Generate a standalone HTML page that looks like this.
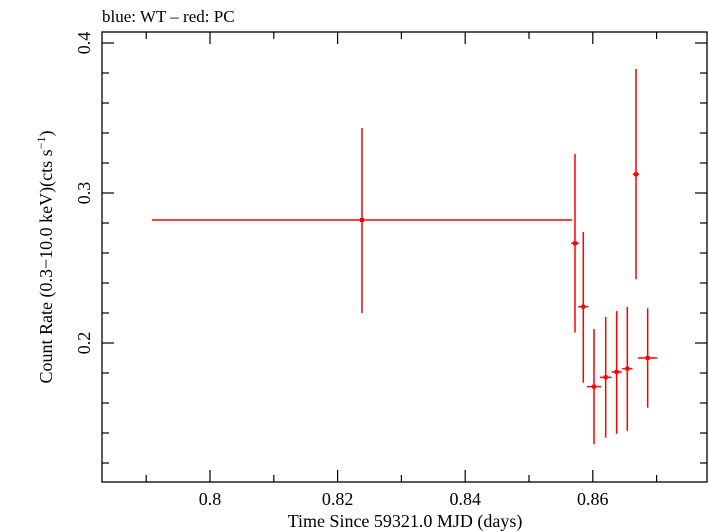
<!DOCTYPE html>
<html><head><meta charset="utf-8"><style>
body{margin:0;background:#fff}
svg{display:block;font-family:"Liberation Serif",serif}
</style></head><body>
<svg id="c" width="709" height="532" viewBox="0 0 709 532">
<text x="102" y="22" font-size="17">blue: WT – red: PC</text>
<rect x="102" y="32" width="605" height="450" fill="none" stroke="#000" stroke-width="1.3"/>
<g id="ticks"></g>
<g id="marks"></g>
<text x="405" y="527" font-size="18" text-anchor="middle">Time Since 59321.0 MJD (days)</text>
<text transform="translate(52,257) rotate(-90)" font-size="18" text-anchor="middle">Count Rate (0.3−10.0 keV)(cts s<tspan dy="-7" font-size="12">−1</tspan><tspan dy="7">)</tspan></text>
</svg>
<script>
const times=[0.82382,0.85721,0.85851,0.86019,0.86202,0.86374,0.86541,0.86677,0.8686];
const timeErrLo=[0.03291,0.0006,0.0008,0.0011,0.0009,0.0008,0.0008,0.0005,0.0015];
const timeErrHi=[0.03292,0.0006,0.0008,0.0011,0.0009,0.0008,0.0008,0.0005,0.0015];
const rates=[0.282,0.2665,0.2242,0.1709,0.1771,0.1807,0.1829,0.3125,0.19];
const rateHi=[0.3433,0.326,0.274,0.2093,0.2173,0.2213,0.224,0.3827,0.2231];
const rateLo=[0.22,0.2069,0.1735,0.1325,0.1369,0.1395,0.1415,0.2425,0.1569];
const xTicks=[0.8,0.82,0.84,0.86];
const xTickLabels=["0.8","0.82","0.84","0.86"];
const yTicks=[0.2,0.3,0.4];
const yTickLabels=["0.2","0.3","0.4"];
const L=102,R=707,T=32,B=482;
const X=v=>210+(v-0.8)*6380;
const Y=v=>43+(0.4-v)*1500;
const NS="http://www.w3.org/2000/svg";
function mk(tag,attrs,parent){const e=document.createElementNS(NS,tag);for(const k in attrs)e.setAttribute(k,attrs[k]);parent.appendChild(e);return e;}
const tg=document.getElementById('ticks');
for(let i=79;i<=87;i++){const v=i/100;const x=X(v);const major=i%2===0;const len=major?12:7;
 let t=mk('line',{x1:x,x2:x,y1:B,y2:B-len,stroke:'#000','stroke-width':1.2},tg);
 
 t=mk('line',{x1:x,x2:x,y1:T,y2:T+len,stroke:'#000','stroke-width':1.2},tg);
 }
for(let i=6;i<=20;i++){const v=i/50;const y=Y(v);if(y>B||y<T)continue;const major=i%5===0;const len=major?12:7;
 let t=mk('line',{x1:L,x2:L+len,y1:y,y2:y,stroke:'#000','stroke-width':1.2},tg);
 
 t=mk('line',{x1:R,x2:R-len,y1:y,y2:y,stroke:'#000','stroke-width':1.2},tg);
 }
xTicks.forEach((v,i)=>{const t=mk('text',{x:X(v),y:505,'font-size':18,'text-anchor':'middle'},tg);t.textContent=xTickLabels[i];
 });
yTicks.forEach((v,i)=>{const t=mk('text',{transform:`translate(90,${Y(v)}) rotate(-90)`,'font-size':18,'text-anchor':'middle'},tg);t.textContent=yTickLabels[i];
 });
const mg=document.getElementById('marks');
times.forEach((t,i)=>{const g=mk('g',{stroke:'#f00','stroke-width':1.5},mg);
 
 mk('line',{x1:X(t-timeErrLo[i]),x2:X(t+timeErrHi[i]),y1:Y(rates[i]),y2:Y(rates[i])},g);
 mk('line',{x1:X(t),x2:X(t),y1:Y(rateHi[i]),y2:Y(rateLo[i])},g);
 mk('rect',{x:X(t)-2,y:Y(rates[i])-2,width:4,height:4,fill:'#f00',stroke:'none'},g);});
</script>
</body></html>
